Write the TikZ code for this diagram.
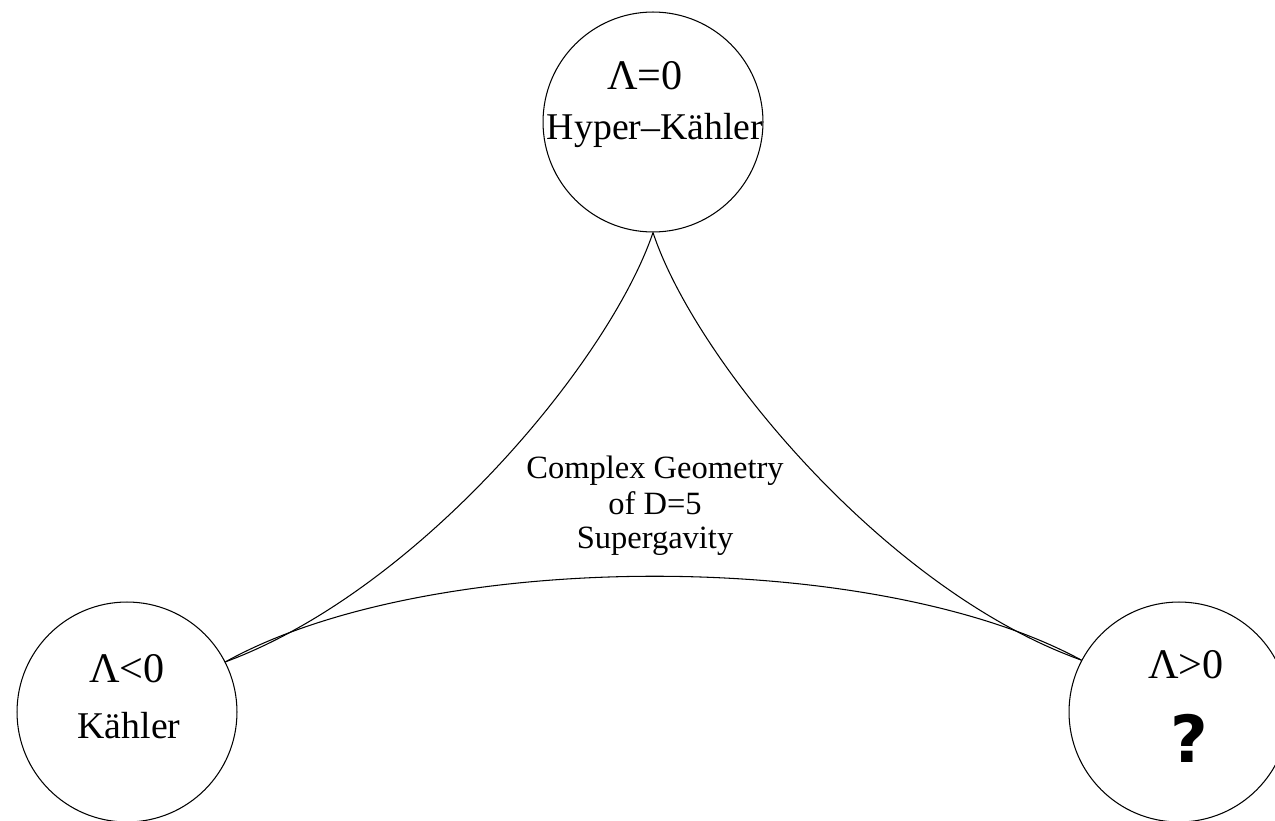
\documentclass[tikz,border=0pt]{standalone}
\usepackage{fontspec}
\setmainfont{Liberation Serif}
\newfontfamily\qmarkfont{DejaVu Sans}
\usetikzlibrary{calc}

\begin{document}
\begin{tikzpicture}[x=0.02cm, y=-0.02cm, line width=0.6pt,
		geom/.style={circle, draw, minimum size=4.4cm, inner sep=0pt},
		lamlabel/.style={anchor=base, font=\fontsize{24}{28}\selectfont},
		geomlabel/.style={anchor=base, font=\fontsize{21.5}{25}\selectfont},
		centrelabel/.style={anchor=base, font=\fontsize{18.5}{22}\selectfont}]
				\useasboundingbox (0, 0) rectangle (1275, 821);
				\clip (0, 0) rectangle (1275, 821);

				\node[geom] (hk) at (653, 122) {};
				\node[geom] (k) at (127, 712) {};
				\node[geom] (pos) at (1179, 712) {};

				\node[lamlabel] (hklam) at (645, 90) {Λ=0};
				\node[geomlabel] (hkname) at (655, 140) {Hyper–Kähler};

				\node[lamlabel] (klam) at (127, 682) {Λ<0};
				\node[geomlabel] (kname) at (129, 738) {Kähler};

				\node[lamlabel] (poslam) at (1186, 678) {Λ>0};
				\node[anchor=base, font=\qmarkfont\bfseries\fontsize{37}{40}\selectfont] (posname) at (1189, 762) {?};

				\node[centrelabel] (cg1) at (655, 478) {Complex Geometry};
				\node[centrelabel] (cg2) at (655, 514) {of D=5};
				\node[centrelabel] (cg3) at (655, 548) {Supergavity};

				\draw (hk.south) .. controls (610, 360) and (420, 590) .. (k.27.5);
				\draw (hk.south) .. controls (695, 360) and (885, 590) .. (pos.152.5);
				\draw (k.27.5) .. controls (430, 548) and (875, 548) .. (pos.152.5);
\end{tikzpicture}
\end{document}
